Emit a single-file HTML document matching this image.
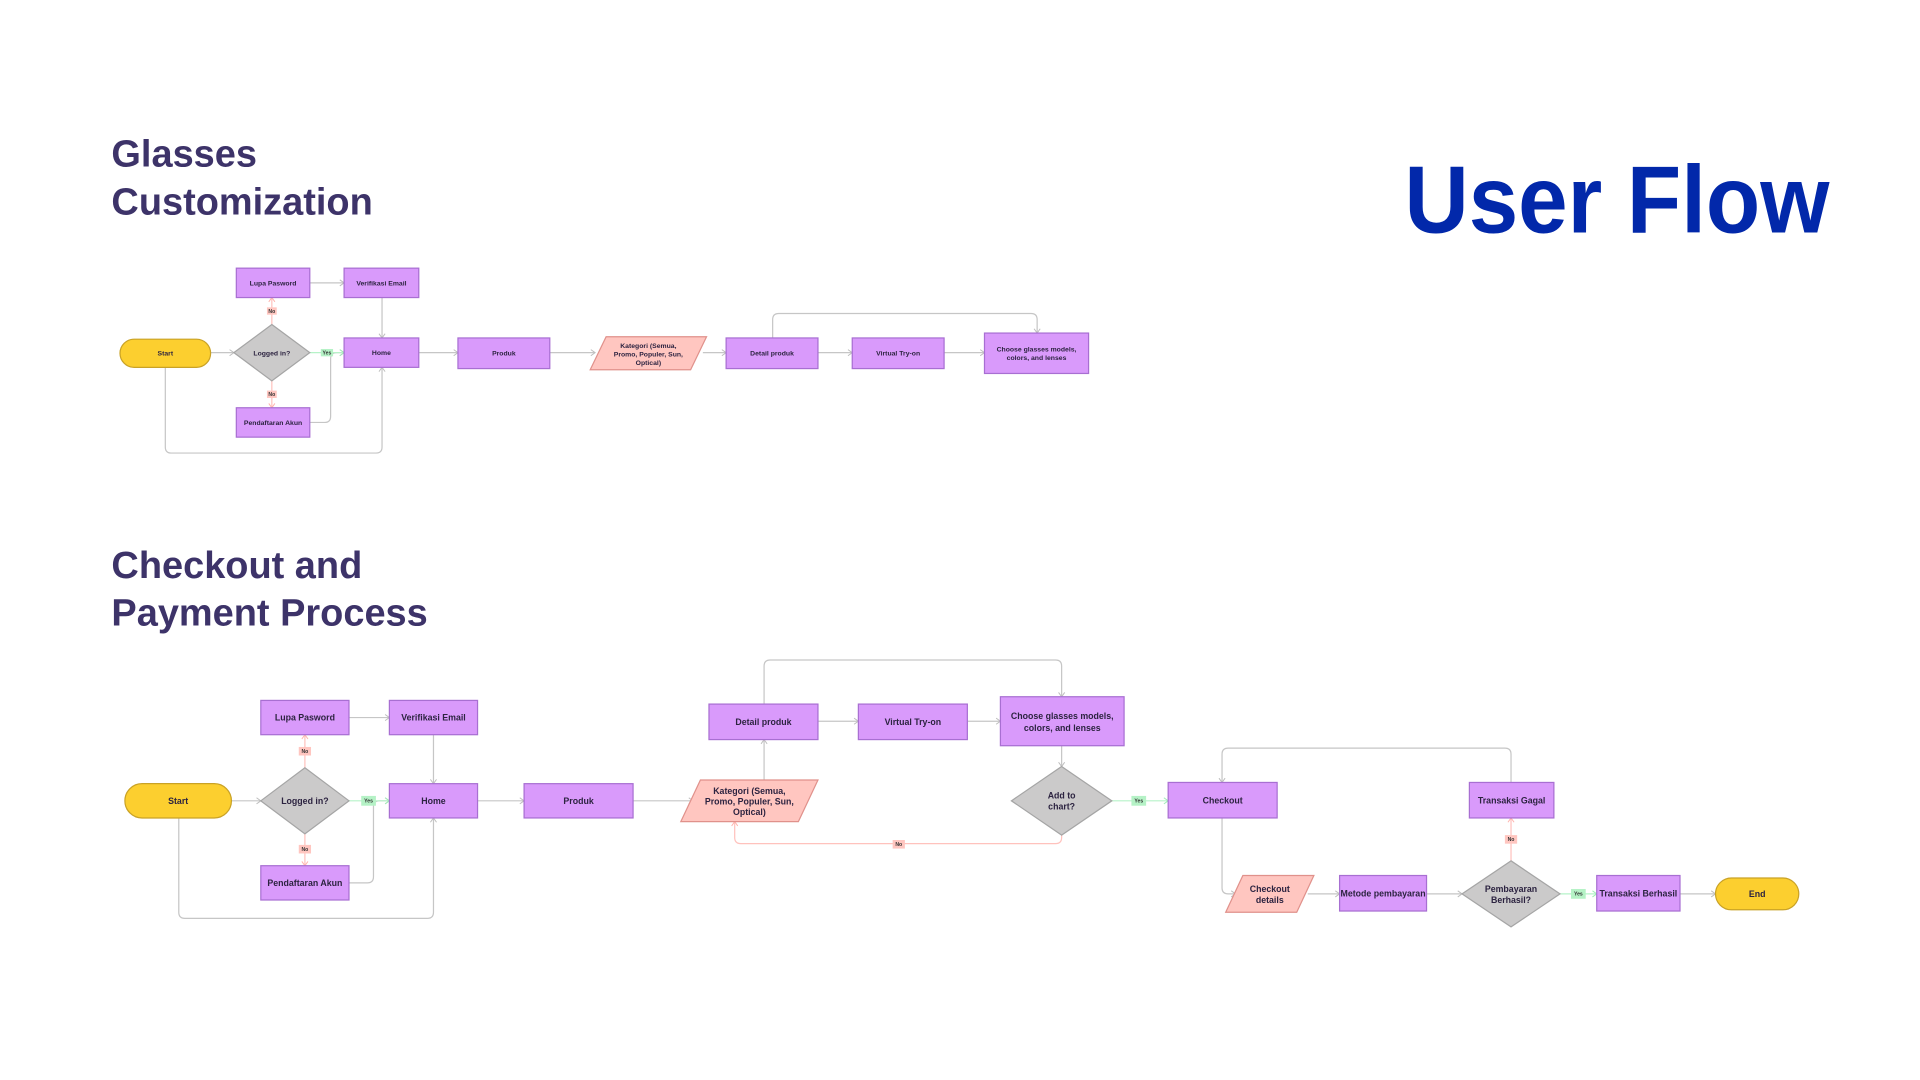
<!DOCTYPE html>
<html><head><meta charset="utf-8"><style>
html,body{margin:0;padding:0;background:#fff;}
svg{display:block;}
text{font-family:"Liberation Sans",sans-serif;}
.p{fill:#d99afb;stroke:#a86fd2;stroke-width:1}
.d{fill:#cbcaca;stroke:#a5a5a5;stroke-width:1}
.k{fill:#ffc6c0;stroke:#e0918b;stroke-width:1}
.y{fill:#fccf2f;stroke:#c9a226;stroke-width:1}
.l{fill:none;stroke:#c6c6c6;stroke-width:1;marker-end:url(#ag)}
.lr{fill:none;stroke:#ffc2bd;stroke-width:1;marker-end:url(#ar)}
.lg{fill:none;stroke:#b6f3c8;stroke-width:1;marker-end:url(#agr)}
.t1{font-size:5.6px;font-weight:bold;fill:#2c2340;text-anchor:middle}
.t2{font-size:7.2px;font-weight:bold;fill:#2c2340;text-anchor:middle}
.h{font-size:31px;font-weight:bold;fill:#3d3369}
.nr{fill:#ffc6c0}.ng{fill:#b5f2c6}
.tl{font-size:4.2px;font-weight:bold;fill:#333;text-anchor:middle}
</style></head><body>
<svg width="1920" height="1080" viewBox="0 0 1568 882" xmlns="http://www.w3.org/2000/svg">
<defs>
<marker id="ag" markerUnits="userSpaceOnUse" markerWidth="6" markerHeight="8" refX="4" refY="3" orient="auto"><path d="M0.5 0.5L4 3L0.5 5.5" fill="none" stroke="#bdbdbd" stroke-width="0.8"/></marker>
<marker id="ar" markerUnits="userSpaceOnUse" markerWidth="6" markerHeight="8" refX="4" refY="3" orient="auto"><path d="M0.5 0.5L4 3L0.5 5.5" fill="none" stroke="#ffb3ad" stroke-width="0.8"/></marker>
<marker id="agr" markerUnits="userSpaceOnUse" markerWidth="6" markerHeight="8" refX="4" refY="3" orient="auto"><path d="M0.5 0.5L4 3L0.5 5.5" fill="none" stroke="#9fecb6" stroke-width="0.8"/></marker>
</defs>
<rect width="1568" height="882" fill="#fff"/>
<text class="h" x="91" y="136">Glasses</text>
<text class="h" x="91" y="175">Customization</text>
<text class="h" x="91" y="472">Checkout and</text>
<text class="h" x="91" y="511">Payment Process</text>
<text x="1147" y="190" textLength="347" lengthAdjust="spacingAndGlyphs" style="font-size:78px;font-weight:bold;fill:#0228aa">User Flow</text>

<!-- TOP FLOW connectors -->
<path class="l" d="M172 288H191"/><path class="l" d="M253 231H281"/><path class="l" d="M312 243V276"/>
<path class="l" d="M342 288H374"/><path class="l" d="M449 288H486"/><path class="l" d="M574 288H593"/>
<path class="l" d="M668 288H696"/><path class="l" d="M771 288H804"/>
<path class="l" d="M631 276V261Q631 256 636 256H842Q847 256 847 261V272"/>
<path class="l" d="M135 300V365Q135 370 140 370H307Q312 370 312 365V300"/>
<path class="l" d="M253 345H265Q270 345 270 340V293Q270 288 275 288H281"/>
<path class="lg" d="M253 288H281"/>
<path class="lr" d="M222 265V243"/><path class="lr" d="M222 311V333"/>
<rect class="nr" x="218" y="251" width="8" height="6"/><text class="tl" x="222" y="255.5">No</text>
<rect class="nr" x="218" y="319" width="8" height="6"/><text class="tl" x="222" y="323.5">No</text>
<rect class="ng" x="262" y="285" width="10" height="6"/><text class="tl" x="267" y="289.5">Yes</text>

<rect class="y" x="98" y="277" width="74" height="23" rx="11.5"/><text class="t1" x="135" y="290.5">Start</text>
<path class="d" d="M222 265L253 288L222 311L191 288Z"/><text class="t1" x="222" y="290.5">Logged in?</text>
<rect class="p" x="193" y="219" width="60" height="24"/><text class="t1" x="223" y="233">Lupa Pasword</text>
<rect class="p" x="281" y="219" width="61" height="24"/><text class="t1" x="311.5" y="233">Verifikasi Email</text>
<rect class="p" x="281" y="276" width="61" height="24"/><text class="t1" x="311.5" y="290">Home</text>
<rect class="p" x="193" y="333" width="60" height="24"/><text class="t1" x="223" y="347">Pendaftaran Akun</text>
<rect class="p" x="374" y="276" width="75" height="25"/><text class="t1" x="411.5" y="290.5">Produk</text>
<path class="k" d="M495 275H577L564 302H482Z"/>
<text class="t1" x="529.5" y="284">Kategori (Semua,</text><text class="t1" x="529.5" y="291">Promo, Populer, Sun,</text><text class="t1" x="529.5" y="298">Optical)</text>
<rect class="p" x="593" y="276" width="75" height="25"/><text class="t1" x="630.5" y="290.5">Detail produk</text>
<rect class="p" x="696" y="276" width="75" height="25"/><text class="t1" x="733.5" y="290.5">Virtual Try-on</text>
<rect class="p" x="804" y="272" width="85" height="33"/><text class="t1" x="846.5" y="287">Choose glasses models,</text><text class="t1" x="846.5" y="294">colors, and lenses</text>

<!-- BOTTOM FLOW connectors -->
<path class="l" d="M189 654H213"/><path class="l" d="M285 586H318"/><path class="l" d="M354 600V640"/>
<path class="l" d="M390 654H428"/><path class="l" d="M517 654H566"/><path class="l" d="M624 637V604"/>
<path class="l" d="M668 589H701"/><path class="l" d="M790 589H817"/><path class="l" d="M867 609V626"/>
<path class="l" d="M624 575V544Q624 539 629 539H862Q867 539 867 544V569"/>
<path class="l" d="M146 668V745Q146 750 151 750H349Q354 750 354 745V668"/>
<path class="l" d="M285 721H300Q305 721 305 716V659Q305 654 310 654H318"/>
<path class="l" d="M998 668V725Q998 730 1003 730H1009"/>
<path class="l" d="M1068 730H1094"/><path class="l" d="M1165 730H1194"/><path class="l" d="M1372 730H1401"/>
<path class="l" d="M1234 639V616Q1234 611 1229 611H1003Q998 611 998 616V639"/>
<path class="lg" d="M908 654H954"/><path class="lg" d="M1274 730H1304"/><path class="lg" d="M285 654H318"/>
<path class="lr" d="M249 627V600"/><path class="lr" d="M249 681V707"/><path class="lr" d="M1234 703V668"/>
<path class="lr" d="M867 682V684Q867 689 862 689H605Q600 689 600 684V671"/>
<rect class="nr" x="244" y="610" width="10" height="7"/><text class="tl" x="249" y="615">No</text>
<rect class="nr" x="244" y="690" width="10" height="7"/><text class="tl" x="249" y="695">No</text>
<rect class="ng" x="295" y="650" width="12" height="8"/><text class="tl" x="301" y="655.5">Yes</text>
<rect class="nr" x="729" y="686" width="10" height="7"/><text class="tl" x="734" y="691">No</text>
<rect class="ng" x="924" y="650" width="12" height="8"/><text class="tl" x="930" y="655.5">Yes</text>
<rect class="nr" x="1229" y="682" width="10" height="7"/><text class="tl" x="1234" y="687">No</text>
<rect class="ng" x="1283" y="726" width="12" height="8"/><text class="tl" x="1289" y="731.5">Yes</text>

<rect class="y" x="102" y="640" width="87" height="28" rx="14"/><text class="t2" x="145.5" y="656.5">Start</text>
<path class="d" d="M249 627L285 654L249 681L213 654Z"/><text class="t2" x="249" y="656.5">Logged in?</text>
<rect class="p" x="213" y="572" width="72" height="28"/><text class="t2" x="249" y="588.5">Lupa Pasword</text>
<rect class="p" x="318" y="572" width="72" height="28"/><text class="t2" x="354" y="588.5">Verifikasi Email</text>
<rect class="p" x="318" y="640" width="72" height="28"/><text class="t2" x="354" y="656.5">Home</text>
<rect class="p" x="213" y="707" width="72" height="28"/><text class="t2" x="249" y="723.5">Pendaftaran Akun</text>
<rect class="p" x="428" y="640" width="89" height="28"/><text class="t2" x="472.5" y="656.5">Produk</text>
<path class="k" d="M572 637H668L652 671H556Z"/>
<text class="t2" x="612" y="648.5">Kategori (Semua,</text><text class="t2" x="612" y="657">Promo, Populer, Sun,</text><text class="t2" x="612" y="665.5">Optical)</text>
<rect class="p" x="579" y="575" width="89" height="29"/><text class="t2" x="623.5" y="592">Detail produk</text>
<rect class="p" x="701" y="575" width="89" height="29"/><text class="t2" x="745.5" y="592">Virtual Try-on</text>
<rect class="p" x="817" y="569" width="101" height="40"/><text class="t2" x="867.5" y="587">Choose glasses models,</text><text class="t2" x="867.5" y="597">colors, and lenses</text>
<path class="d" d="M867 626L908 654L867 682L826 654Z"/><text class="t2" x="867" y="652">Add to</text><text class="t2" x="867" y="661">chart?</text>
<rect class="p" x="954" y="639" width="89" height="29"/><text class="t2" x="998.5" y="656">Checkout</text>
<rect class="p" x="1200" y="639" width="69" height="29"/><text class="t2" x="1234.5" y="656">Transaksi Gagal</text>
<path class="k" d="M1015 715H1073L1059 745H1001Z"/><text class="t2" x="1037" y="728.5">Checkout</text><text class="t2" x="1037" y="737.5">details</text>
<rect class="p" x="1094" y="715" width="71" height="29"/><text class="t2" x="1129.5" y="732">Metode pembayaran</text>
<path class="d" d="M1234 703L1274 730L1234 757L1194 730Z"/><text class="t2" x="1234" y="728.5">Pembayaran</text><text class="t2" x="1234" y="737.5">Berhasil?</text>
<rect class="p" x="1304" y="715" width="68" height="29"/><text class="t2" x="1338" y="732">Transaksi Berhasil</text>
<rect class="y" x="1401" y="717" width="68" height="26" rx="13"/><text class="t2" x="1435" y="732.5">End</text>
</svg>
</body></html>
